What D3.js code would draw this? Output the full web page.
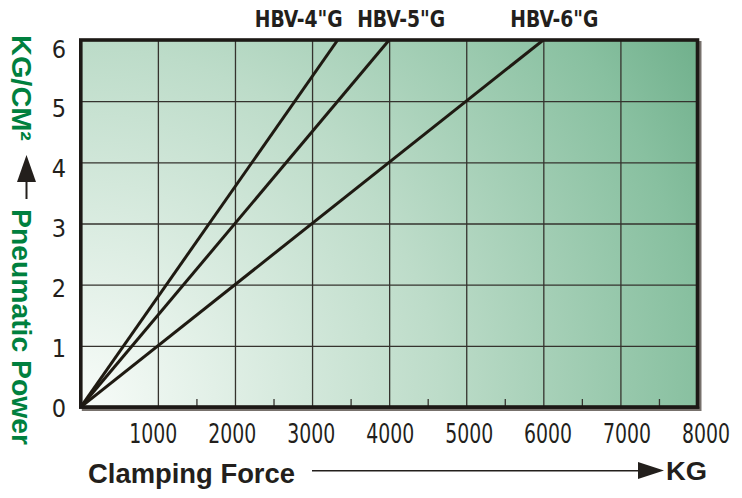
<!DOCTYPE html>
<html>
<head>
<meta charset="utf-8">
<script src="https://cdn.jsdelivr.net/npm/d3@7"></script>
<style>
  body { margin: 0; background: #fff; }
  svg { display: block; }
</style>
</head>
<body>
<script>
// values
var pressure = [0, 6];          // KG/CM2 at start and end of each line
var force4 = [0, 3333];         // HBV-4"G clamping force, KG
var force5 = [0, 4000];         // HBV-5"G
var force6 = [0, 6000];         // HBV-6"G
var seriesNames = ['HBV-4"G', 'HBV-5"G', 'HBV-6"G'];
var xTicks = [1000, 2000, 3000, 4000, 5000, 6000, 7000, 8000];
var xMinor = [1500, 2500, 3500, 4500, 5500, 6500, 7500];
var yTicks = [0, 1, 2, 3, 4, 5, 6];

(function () {
var W = 742, H = 498;
var pL = 80.8, pR = 697.5, pT = 40, pB = 407;
var narrow = "'Liberation Sans Narrow','DejaVu Sans Condensed','Arial Narrow',sans-serif";
var bold = "'Liberation Sans','Arial',sans-serif";

var svg = d3.select("body").append("svg")
  .attr("width", W)
  .attr("height", H);

var x = d3.scaleLinear().domain([0, 8000]).range([pL, pR]);
var y = d3.scaleLinear().domain([0, 6]).range([pB, pT]);
// the printed labels sit on a slightly wider spacing than the grid
var xLab = d3.scaleLinear().domain([0, 8000]).range([74.4, 706]);
var yLab = d3.scaleLinear().domain([0, 6]).range([408, 48.5]);

var defs = svg.append("defs");
var grad = defs.append("radialGradient")
  .attr("id", "bg")
  .attr("gradientUnits", "userSpaceOnUse")
  .attr("cx", pL).attr("cy", pB)
  .attr("fx", pL).attr("fy", pB)
  .attr("r", 718);
[[0, "#f8fcf9"], [0.5, "#bddcc9"], [0.86, "#88c0a0"], [1, "#70b08c"]].forEach(function (s) {
  grad.append("stop").attr("offset", s[0]).attr("stop-color", s[1]);
});
defs.append("clipPath").attr("id", "plot")
  .append("rect")
  .attr("x", pL).attr("y", pT)
  .attr("width", pR - pL).attr("height", pB - pT);

// shadow + background
svg.append("rect")
  .attr("x", pL + 2.5).attr("y", pT + 2.5)
  .attr("width", pR - pL).attr("height", pB - pT)
  .attr("fill", "none").attr("stroke", "#77716c").attr("stroke-width", 3);
svg.append("rect")
  .attr("x", pL).attr("y", pT)
  .attr("width", pR - pL).attr("height", pB - pT)
  .attr("fill", "url(#bg)");

// grid
var gx = svg.append("g")
  .attr("transform", "translate(0," + pB + ")")
  .call(d3.axisBottom(x).tickValues(xTicks.slice(0, -1)).tickSize(-(pB - pT)).tickFormat(""));
var gy = svg.append("g")
  .attr("transform", "translate(" + pL + ",0)")
  .call(d3.axisLeft(y).tickValues(yTicks.slice(1, -1)).tickSize(-(pR - pL)).tickFormat(""));
[gx, gy].forEach(function (g) {
  g.select(".domain").remove();
  g.selectAll("line").attr("stroke", "#35332e").attr("stroke-width", 1.3);
});

// minor ticks on the bottom edge
svg.append("g")
  .attr("transform", "translate(0," + pB + ")")
  .call(d3.axisBottom(x).tickValues(xMinor).tickSize(-8).tickFormat(""))
  .call(function (g) { g.select(".domain").remove(); })
  .selectAll("line").attr("stroke", "#35332e").attr("stroke-width", 1.3);

// lines
var line = d3.line()
  .x(function (d) { return x(d[0]); })
  .y(function (d) { return y(d[1]); });
var series = [force4, force5, force6].map(function (f) {
  return f.map(function (v, i) { return [v, pressure[i]]; });
});
svg.append("g").attr("clip-path", "url(#plot)")
  .selectAll("path")
  .data(series)
  .enter()
  .append("path")
  .attr("d", line)
  .attr("fill", "none")
  .attr("stroke", "#1f1a12")
  .attr("stroke-width", 3);

// frame
svg.append("rect")
  .attr("x", pL).attr("y", pT)
  .attr("width", pR - pL).attr("height", pB - pT)
  .attr("fill", "none").attr("stroke", "#1d1916").attr("stroke-width", 3.6);
svg.append("line")
  .attr("x1", pL - 1.8).attr("x2", pR + 1.8)
  .attr("y1", pB + 0.8).attr("y2", pB + 0.8)
  .attr("stroke", "#1d1916").attr("stroke-width", 2);

// series labels above the frame
var labelDx = [-39, 12, 11];
svg.selectAll("text.series")
  .data(series)
  .enter()
  .append("text")
  .attr("class", "series")
  .attr("x", function (d, i) { return x(d[1][0]) + labelDx[i]; })
  .attr("y", 27)
  .attr("text-anchor", "middle")
  .attr("font-family", narrow)
  .attr("font-weight", "bold")
  .attr("font-size", 23)
  .attr("textLength", 88)
  .attr("lengthAdjust", "spacingAndGlyphs")
  .attr("fill", "#231f1c")
  .text(function (d, i) { return seriesNames[i]; });

// tick labels
svg.selectAll("text.xt")
  .data(xTicks)
  .enter()
  .append("text")
  .attr("class", "xt")
  .attr("x", function (d) { return xLab(d); })
  .attr("y", 443)
  .attr("text-anchor", "middle")
  .attr("font-family", narrow)
  .attr("font-size", 26)
  .attr("textLength", 48)
  .attr("lengthAdjust", "spacingAndGlyphs")
  .attr("fill", "#231f1c")
  .text(function (d) { return d; });

svg.selectAll("text.yt")
  .data(yTicks)
  .enter()
  .append("text")
  .attr("class", "yt")
  .attr("x", 66)
  .attr("y", function (d) { return yLab(d) + 9; })
  .attr("text-anchor", "end")
  .attr("font-family", narrow)
  .attr("font-size", 25)
  .attr("fill", "#231f1c")
  .text(function (d) { return d; });

// y title (vertical, green) with arrow
var green = "#00803e";
svg.append("text")
  .attr("transform", "translate(12,35) rotate(90)")
  .attr("font-family", bold)
  .attr("font-weight", "bold")
  .attr("font-size", 27)
  .attr("textLength", 106)
  .attr("lengthAdjust", "spacingAndGlyphs")
  .attr("fill", green)
  .text("KG/CM²");
svg.append("text")
  .attr("transform", "translate(12,209) rotate(90)")
  .attr("font-family", bold)
  .attr("font-weight", "bold")
  .attr("font-size", 27)
  .attr("textLength", 236)
  .attr("lengthAdjust", "spacingAndGlyphs")
  .attr("fill", green)
  .text("Pneumatic Power");
svg.append("path")
  .attr("d", "M17,182 L36,182 L26.5,155 Z")
  .attr("fill", "#231f1c");
svg.append("line")
  .attr("x1", 26.5).attr("x2", 26.5).attr("y1", 181).attr("y2", 199)
  .attr("stroke", "#231f1c").attr("stroke-width", 2);

// x title with arrow
svg.append("text")
  .attr("x", 88).attr("y", 483)
  .attr("font-family", bold)
  .attr("font-weight", "bold")
  .attr("font-size", 28)
  .attr("textLength", 207)
  .attr("lengthAdjust", "spacingAndGlyphs")
  .attr("fill", "#231f1c")
  .text("Clamping Force");
svg.append("line")
  .attr("x1", 312).attr("x2", 640).attr("y1", 470.7).attr("y2", 470.7)
  .attr("stroke", "#231f1c").attr("stroke-width", 1.6);
svg.append("path")
  .attr("d", "M638,462 L638,479 L664,470.5 Z")
  .attr("fill", "#231f1c");
svg.append("text")
  .attr("x", 666).attr("y", 480)
  .attr("font-family", bold)
  .attr("font-weight", "bold")
  .attr("font-size", 26)
  .attr("textLength", 41)
  .attr("lengthAdjust", "spacingAndGlyphs")
  .attr("fill", "#231f1c")
  .text("KG");
})();
</script>
</body>
</html>
